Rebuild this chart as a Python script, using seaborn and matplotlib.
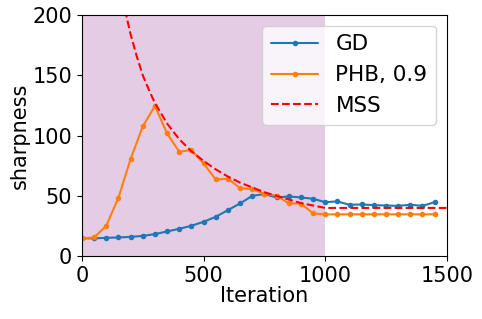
import numpy as np
import pandas as pd
import seaborn as sns
import matplotlib
matplotlib.use("Agg")
import matplotlib.pyplot as plt

# iterations where sharpness was logged
iters = list(range(0, 1500, 50))

gd_sharp = [14.7, 14.8, 15.2, 15.5, 16.0, 16.8, 18.3, 20.5, 22.7, 25.2,
            28.5, 32.6, 38.2, 43.7, 50.0, 51.5, 48.7, 49.5, 48.7, 47.6,
            44.8, 45.4, 42.6, 42.9, 42.3, 42.0, 41.7, 42.6, 41.7, 44.8]

phb_sharp = [14.7, 15.5, 25.2, 48.4, 80.5, 107.6, 124.5, 101.8, 86.6, 88.0,
             76.9, 63.6, 64.2, 56.4, 55.6, 51.7, 50.3, 43.8, 43.6, 35.5,
             34.6, 34.7, 34.7, 34.7, 34.7, 34.7, 34.7, 34.7, 34.7, 34.7]

# maximal stable sharpness
mss_iters = [125, 150, 175, 200, 225, 250, 275, 300, 350, 400, 450, 500,
             550, 600, 650, 700, 750, 800, 850, 900, 950, 1000, 1500]
mss_vals = [278, 238, 206, 184, 166, 150, 138, 127, 110, 97, 87, 79,
            72, 66, 61, 57, 53, 50, 47, 44, 42, 40, 40]

df = pd.DataFrame({"Iteration": iters * 2,
                   "sharpness": gd_sharp + phb_sharp,
                   "method": ["GD"] * len(iters) + ["PHB, 0.9"] * len(iters)})
df_mss = pd.DataFrame({"Iteration": mss_iters, "sharpness": mss_vals})

sns.set_style("ticks", {"axes.edgecolor": "black", "text.color": "black",
                        "axes.labelcolor": "black", "xtick.color": "black",
                        "ytick.color": "black"})
plt.rcParams["font.family"] = ["DejaVu Sans"]

fs = 15

fig = plt.figure(figsize=(4.82, 3.19), dpi=100)
ax = fig.add_axes([0.170, 0.197, 0.757, 0.756])

ax.axvspan(0, 1000, color="purple", alpha=0.2, lw=0)

sns.lineplot(data=df, x="Iteration", y="sharpness", hue="method",
             palette=["#1f77b4", "#ff7f0e"], marker="o", markersize=4,
             markeredgewidth=0, linewidth=1.5, ax=ax)
sns.lineplot(data=df_mss, x="Iteration", y="sharpness", color="red",
             linestyle="--", linewidth=1.5, label="MSS", ax=ax)

ax.set_xlim(0, 1500)
ax.set_ylim(0, 200)
ax.set_xticks([0, 500, 1000, 1500])
ax.set_yticks([0, 50, 100, 150, 200])
ax.tick_params(labelsize=fs)
ax.set_xlabel("Iteration", fontsize=fs, labelpad=0)
ax.set_ylabel("sharpness", fontsize=fs, labelpad=2)

leg = ax.legend(loc="upper right", fontsize=15.5, framealpha=0.8,
                handlelength=2.2)
leg.set_title(None)

fig.savefig("out.png", dpi=100)
